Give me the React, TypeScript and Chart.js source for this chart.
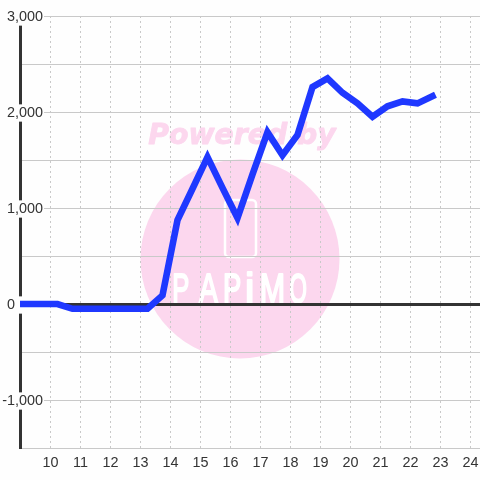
import React, { useEffect, useRef } from "react";
import { Chart, registerables } from "chart.js";

Chart.register(...registerables);

const hours = [8.75, 9.25, 9.75, 10.25, 10.75, 11.25, 11.75, 12.25, 12.75, 13.25, 13.75, 14.25, 14.75, 15.25, 15.75, 16.25, 16.75, 17.25, 17.75, 18.25, 18.75, 19.25, 19.75, 20.25, 20.75, 21.25, 21.75, 22.25, 22.75];
const values = [0, 0, 0, 0, -50, -50, -50, -50, -50, -50, 90, 875, 1200, 1530, 1210, 895, 1350, 1790, 1550, 1760, 2260, 2350, 2200, 2090, 1950, 2060, 2110, 2090, 2165];
const xTicks = [10, 11, 12, 13, 14, 15, 16, 17, 18, 19, 20, 21, 22, 23, 24];
const yTicks = [-1500, -1000, -500, 0, 500, 1000, 1500, 2000, 2500, 3000];
const yLabels: Record<string, string> = { "-1000": "-1,000", "0": "0\u00a0\u00a0\u00a0\u00a0\u00a0\u00a0\u00a0", "1000": "1,000", "2000": "2,000", "3000": "3,000" };
const watermarkTitle = "Powered by";
const watermarkLogo = "PAPiMO";
const logoBoxes = [[174, 14], [199, 19], [225, 15], [247, 5], [262, 21], [290, 16]];

const GRID = "#c9c9c9";
const DARK = "#333333";
const PINK = "#fcd7ee";

const watermark = {
  id: "watermark",
  beforeDraw(chart: any) {
    const c = chart.ctx;
    c.save();
    c.fillStyle = "#fefefe";
    c.fillRect(0, 0, 480, 480);
    c.fillStyle = PINK;
    c.strokeStyle = PINK;
    c.beginPath();
    c.arc(240, 259, 99.5, 0, Math.PI * 2);
    c.fill();
    c.font = "italic bold 28.3px 'DejaVu Sans'";
    c.textAlign = "center";
    c.textBaseline = "alphabetic";
    c.fillText(watermarkTitle, 242, 144);
    c.lineWidth = 0.9;
    c.lineJoin = "round";
    c.strokeText(watermarkTitle, 242, 144);
    c.strokeStyle = "#ffffff";
    c.lineWidth = 2.5;
    c.beginPath();
    c.roundRect(225, 200, 31, 57, 4);
    c.stroke();
    c.fillStyle = "#ffffff";
    c.font = "42px 'Liberation Sans'";
    c.textAlign = "left";
    c.lineWidth = 2;
    [...watermarkLogo].forEach((ch, i) => {
      const [bx, bw] = logoBoxes[i];
      const m = c.measureText(ch);
      const left = m.actualBoundingBoxLeft;
      const w = m.actualBoundingBoxRight + left;
      c.save();
      c.translate(bx, 303);
      c.scale(bw / w, 1);
      c.fillText(ch, left, 0);
      c.strokeText(ch, left, 0);
      c.restore();
    });
    c.restore();
  },
};

export default function App() {
  const ref = useRef<HTMLCanvasElement>(null);
  useEffect(() => {
    const chart = new Chart(ref.current!, {
      type: "line",
      data: {
        datasets: [
          {
            data: hours.map((h, i) => ({ x: h, y: values[i] })),
            borderColor: "#1f38ff",
            borderWidth: 6.6,
            borderCapStyle: "square",
            borderJoinStyle: "miter",
            pointRadius: 0,
            tension: 0,
          },
        ],
      },
      options: {
        responsive: false,
        animation: false,
        layout: { padding: { top: 16, left: 0, right: 0, bottom: 0 } },
        plugins: { legend: { display: false }, title: { display: false }, tooltip: { enabled: false } },
        scales: {
          x: {
            type: "linear",
            min: 9,
            max: 24.3333,
            afterBuildTicks: (s: any) => {
              s.ticks = xTicks.map((value) => ({ value }));
            },
            afterFit: (s: any) => {
              s.height = 32;
              s.paddingRight = 0;
              s.paddingLeft = 0;
            },
            grid: { color: GRID, lineWidth: 1, tickLength: 0, drawTicks: false },
            border: { display: true, color: GRID, width: 1, dash: [2, 3], dashOffset: 0 },
            ticks: {
              autoSkip: false,
              maxRotation: 0,
              padding: 6,
              labelOffset: 0.5,
              color: DARK,
              font: { family: "'Liberation Sans'", size: 14.4 },
              callback: (v: any) => String(v),
            },
          },
          y: {
            type: "linear",
            min: -1500,
            max: 3000,
            afterBuildTicks: (s: any) => {
              s.ticks = yTicks.map((value) => ({ value }));
            },
            afterFit: (s: any) => {
              s.width = 20;
              s.paddingTop = 0;
              s.paddingBottom = 0;
            },
            grid: {
              tickLength: 0,
              drawTicks: false,
              color: (ctx: any) => (ctx.tick?.value === 0 ? DARK : GRID),
              lineWidth: (ctx: any) => (ctx.tick?.value === 0 ? 3 : 1),
            },
            border: { display: true, color: DARK, width: 3 },
            ticks: {
              autoSkip: false,
              mirror: true,
              crossAlign: "far",
              padding: -17.8,
              labelOffset: 1,
              color: DARK,
              font: { family: "'Liberation Sans'", size: 14.4 },
              showLabelBackdrop: (ctx: any) => String(ctx.tick?.value) in yLabels,
              backdropColor: "#fefefe",
              backdropPadding: { left: 1, right: 1, top: 0, bottom: 0 },
              callback: (v: any) => yLabels[String(v)] ?? "",
            },
          },
        },
      },
      plugins: [watermark],
    } as any);
    return () => chart.destroy();
  }, []);
  return <canvas ref={ref} width={480} height={480} style={{ position: "fixed", left: 0, top: 0, width: 480, height: 480 }} />;
}
